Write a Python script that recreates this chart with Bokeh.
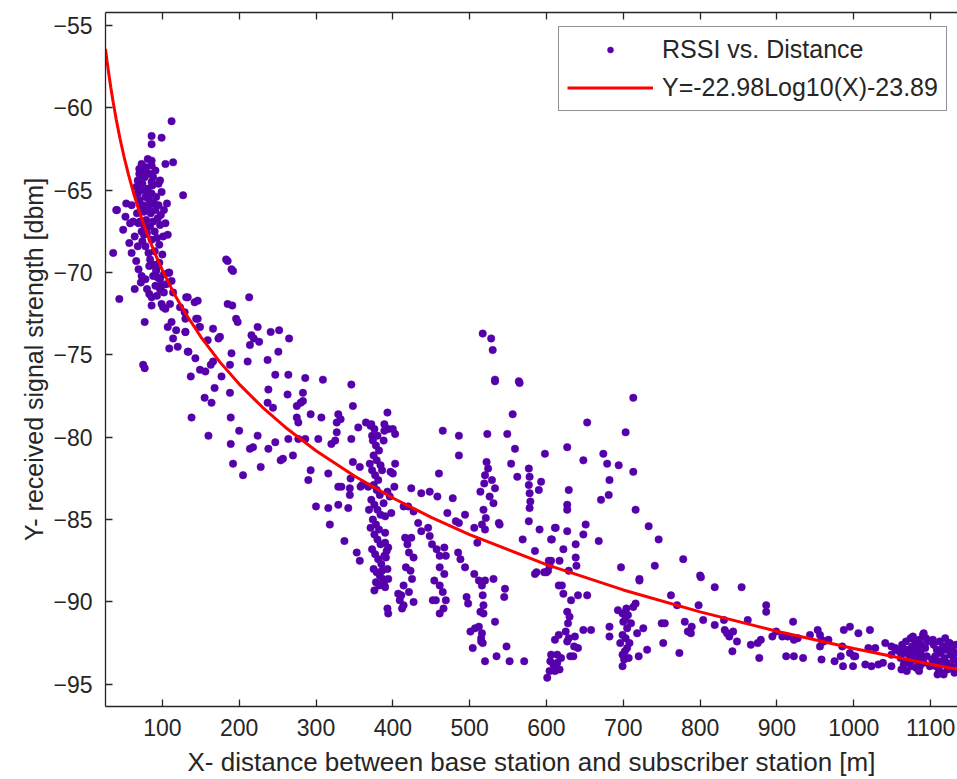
from bokeh.plotting import figure
from bokeh.models import Range1d, LinearAxis, FixedTicker, Legend, LegendItem, ColumnDataSource
from bokeh.embed import file_html
from bokeh.resources import INLINE

# ---------------- data (distance [m], RSSI [dBm]) ----------------
near_pts = [
    [112, -60.8], [86, -61.7], [99, -61.8], [86, -62.2], [81, -63.1], [86, -63.2], [104, -63.4], [114, -63.3],
    [73, -63.4], [70, -64.0], [68, -64.4], [86, -64.5], [127, -65.3], [106, -65.8], [40, -66.2], [53, -65.8],
    [41, -66.2], [52, -66.6], [49, -67.4], [57, -68.2], [36, -68.8], [60, -68.8], [66, -69.3], [83, -69.6],
    [92, -69.8], [109, -70.0], [73, -70.2], [97, -70.4], [64, -71.0], [44, -71.6], [83, -71.3], [86, -71.5],
    [114, -71.2], [131, -71.5], [101, -72.1], [104, -72.2], [123, -72.1], [77, -73.0], [112, -73.0], [107, -73.3],
    [118, -73.5], [130, -73.6], [144, -72.8], [148, -73.3], [114, -74.0], [109, -74.6], [120, -74.5], [133, -74.8],
    [75, -75.6], [77, -75.8], [107, -67.7], [108, -70.0],
    [66, -64.8], [68, -65.2], [70, -65.6], [72, -65.0], [74, -64.6], [75, -65.9], [76, -66.3], [77, -64.2],
    [78, -65.4], [79, -66.8], [80, -65.1], [81, -64.9], [82, -66.0], [83, -65.6], [84, -67.2], [85, -66.4],
    [86, -65.2], [87, -64.7], [88, -66.9], [89, -65.8], [90, -67.5], [91, -66.2], [92, -65.4], [93, -67.9],
    [94, -66.7], [95, -65.9], [96, -68.3], [97, -67.1], [98, -66.5], [100, -68.9], [67, -66.4], [69, -67.0],
    [71, -66.9], [73, -67.5], [74, -68.1], [76, -67.7], [78, -68.4], [80, -67.6], [82, -68.8], [84, -69.2],
    [86, -68.0], [88, -69.5], [90, -68.7], [92, -69.9], [94, -70.3], [96, -69.4], [99, -70.8], [102, -70.1],
    [70, -63.7], [72, -64.1], [75, -63.9], [79, -63.6], [83, -64.0], [88, -64.2], [91, -63.8], [95, -64.6],
    [99, -65.1], [102, -66.2], [104, -67.0], [101, -67.8], [97, -64.4], [86, -63.5], [80, -66.1], [77, -67.2],
    [73, -66.0], [68, -68.4], [64, -67.8], [62, -66.9], [60, -65.9], [58, -67.0], [88, -70.2], [91, -70.8],
    [93, -71.4], [97, -71.0], [99, -71.9], [86, -72.0], [102, -71.2], [105, -70.7], [110, -71.9], [112, -70.5],
    [69, -69.8], [72, -70.6], [78, -70.4], [80, -71.0],
]

mid_pts = [
    [185, -69.3], [192, -69.9], [183, -69.2], [190, -69.8], [133, -71.5], [142, -71.8], [146, -71.7], [213, -71.5],
    [185, -71.9], [191, -72.0], [129, -72.4], [130, -72.8], [146, -72.8], [149, -73.3], [196, -72.8], [198, -73.0],
    [166, -73.4], [224, -73.3], [241, -73.6], [252, -73.5], [130, -73.6], [159, -74.1], [173, -74.0], [175, -73.9],
    [216, -73.8], [219, -74.0], [214, -74.4], [226, -74.2], [265, -74.0], [134, -74.8], [143, -75.2], [251, -74.8],
    [190, -74.9], [166, -75.4], [163, -75.6], [188, -75.6], [211, -75.4], [237, -75.3], [149, -75.9], [156, -76.0],
    [137, -76.3], [177, -76.3], [247, -76.2], [264, -76.2], [286, -76.4], [309, -76.5], [346, -76.8], [168, -77.0],
    [188, -77.3], [238, -77.1], [263, -77.4], [283, -77.3], [283, -77.8], [155, -77.6], [164, -77.9], [237, -77.9],
    [244, -78.2], [275, -78.1], [280, -77.9], [348, -78.1], [138, -78.8], [189, -78.8], [275, -78.8], [277, -79.1],
    [293, -78.6], [307, -78.8], [329, -78.6], [332, -78.9], [327, -79.1], [200, -79.6], [160, -79.9], [224, -79.9],
    [189, -80.4], [214, -80.7], [218, -80.6], [238, -80.7], [247, -80.3], [264, -80.1], [277, -80.1], [286, -80.1],
    [303, -80.1], [320, -80.4], [325, -80.2], [327, -79.7], [346, -80.1], [355, -79.4], [270, -81.1], [254, -81.4],
    [257, -81.3], [192, -81.6], [228, -81.8], [205, -82.3], [293, -82.0], [290, -82.6], [316, -82.2], [348, -81.5],
    [357, -81.8], [345, -82.5], [360, -82.9], [329, -83.0], [344, -83.1], [358, -83.0], [333, -83.0], [344, -83.5],
    [300, -84.2], [316, -84.3], [329, -84.1], [342, -84.3], [318, -85.3], [337, -86.3], [353, -87.0], [357, -87.5],
    [365, -79.1], [371, -79.3], [373, -79.9], [394, -79.5], [389, -79.2], [389, -79.6], [400, -79.5], [403, -79.8],
    [393, -78.5], [397, -82.1], [402, -83.0], [403, -81.6], [400, -82.2],
]

column_pts = [
    [372, -79.2], [376, -79.5], [380, -79.9], [374, -80.2], [378, -80.5], [382, -80.8], [375, -81.1], [379, -81.4],
    [384, -81.7], [373, -82.0], [377, -82.3], [381, -82.6], [375, -82.9], [379, -83.2], [383, -83.5], [372, -83.8],
    [376, -84.1], [380, -84.4], [384, -84.7], [374, -85.0], [378, -85.3], [382, -85.6], [376, -85.9], [380, -86.2],
    [384, -86.5], [373, -86.8], [377, -87.1], [381, -87.4], [385, -87.7], [375, -88.0], [379, -88.2], [383, -88.4],
    [387, -88.6], [378, -88.8], [382, -89.0], [376, -89.3], [386, -88.1], [389, -87.2], [371, -85.5], [369, -84.4],
    [368, -83.0], [370, -81.6], [388, -80.2], [386, -82.0], [388, -84.0], [390, -85.8], [392, -86.9], [389, -89.0],
]

center_pts = [
    [465, -79.6], [486, -79.9], [486, -81.1], [523, -79.8], [549, -79.8], [556, -78.6], [533, -76.6], [565, -76.7],
    [559, -80.7], [598, -81.0], [460, -82.2], [522, -81.5], [524, -81.9], [520, -82.3], [519, -82.8], [514, -83.3],
    [526, -83.6], [531, -84.0], [518, -84.4], [521, -84.9], [516, -85.3], [529, -82.6], [533, -83.1], [554, -81.6],
    [562, -82.4], [577, -81.9], [578, -82.4], [577, -82.9], [578, -83.4], [579, -83.9], [590, -83.2], [578, -84.3],
    [577, -85.1], [393, -83.3], [396, -83.6], [398, -84.6], [390, -84.8], [424, -83.1], [437, -83.4], [448, -83.3],
    [458, -83.6], [414, -84.2], [420, -84.2], [427, -84.5], [478, -83.7], [471, -84.6], [482, -85.1], [486, -85.2],
    [494, -84.7], [433, -85.2], [446, -85.5], [437, -85.7], [506, -85.5], [520, -85.6], [538, -85.2], [510, -86.4],
    [569, -86.2], [591, -85.6], [607, -86.2], [611, -85.5], [585, -86.9], [606, -87.5], [602, -88.1], [587, -88.2],
    [616, -89.0], [390, -86.4], [394, -86.7], [391, -87.3], [393, -88.0], [394, -88.6], [390, -89.1], [416, -86.1],
    [419, -86.5], [424, -86.1], [421, -87.0], [427, -87.3], [417, -87.9], [423, -88.1], [425, -88.6], [414, -89.0],
    [421, -89.4], [427, -90.0], [412, -90.4], [414, -90.2], [448, -86.0], [451, -86.5], [457, -86.8], [461, -87.2],
    [467, -86.7], [469, -87.2], [461, -87.9], [467, -88.3], [454, -88.7], [461, -89.0], [465, -89.4], [469, -89.9],
    [456, -89.9], [466, -90.4], [452, -89.9], [485, -87.0], [488, -87.4], [494, -87.9], [506, -88.3], [512, -88.7],
    [520, -88.7], [531, -88.6], [516, -89.0], [517, -89.6], [518, -90.2], [518, -90.7], [514, -90.6], [546, -89.2],
    [545, -89.7], [496, -89.7], [498, -90.1], [393, -90.4], [394, -90.7], [461, -90.7], [407, -89.5], [409, -89.9],
    [411, -89.6], [520, -93.6], [535, -93.3], [552, -93.6], [571, -93.6], [504, -92.8], [515, -92.4], [515, -92.2],
    [501, -91.8], [507, -91.6], [512, -91.5], [548, -92.7], [533, -91.2], [516, -91.9], [517, -92.5],
]

far_pts = [
    [517, -73.7], [528, -74.0], [530, -74.7], [533, -76.5], [564, -76.6], [713, -77.6], [653, -79.1], [703, -79.7],
    [627, -80.6], [674, -81.0], [648, -81.4], [679, -81.6], [694, -81.7], [713, -82.1], [593, -82.7], [629, -83.2],
    [682, -82.6], [681, -83.5], [671, -83.8], [716, -84.4], [627, -84.1], [627, -84.4], [539, -85.3], [612, -85.5],
    [627, -85.7], [651, -85.3], [648, -85.9], [733, -85.4], [746, -86.2], [668, -86.3], [606, -86.2], [638, -86.5],
    [622, -86.8], [638, -87.3], [639, -87.8], [603, -87.5], [604, -87.8], [600, -88.2], [617, -87.5], [629, -88.1],
    [585, -88.3], [597, -88.2], [697, -87.9], [741, -87.8], [778, -87.4], [721, -88.6], [762, -89.6], [770, -90.2],
    [620, -89.0], [622, -89.5], [641, -89.6], [653, -89.6], [632, -89.9], [627, -90.6], [630, -90.9], [628, -91.3],
    [625, -91.8], [629, -92.2], [627, -92.4], [631, -93.3], [637, -92.1], [641, -92.8], [648, -91.7], [611, -92.3],
    [636, -92.7], [635, -93.3], [605, -93.6], [609, -93.8], [614, -93.7], [611, -94.2], [604, -94.2], [601, -94.6],
    [617, -94.1], [606, -93.2], [614, -93.2], [619, -93.4], [616, -92.0], [693, -90.5], [699, -90.7], [704, -90.4],
    [706, -90.8], [700, -91.2], [705, -91.6], [699, -92.0], [703, -92.2], [708, -92.5], [705, -92.8], [699, -93.2],
    [701, -93.5], [699, -93.9], [716, -90.1], [713, -90.3], [726, -91.6], [718, -91.9], [703, -91.0], [710, -91.3],
    [696, -92.5], [702, -93.0], [707, -93.4], [682, -91.5], [682, -92.1], [658, -91.7], [731, -92.9], [720, -93.3],
    [750, -91.3], [754, -91.3], [752, -92.5], [773, -93.1], [721, -88.7],
]

tail_pts = [
    [780, -91.2], [789, -91.5], [784, -91.8], [788, -91.9], [801, -88.5], [800, -88.4], [819, -89.1], [854, -89.1],
    [798, -90.2], [886, -90.2], [886, -90.6], [804, -91.1], [819, -91.4], [832, -91.7], [835, -91.9], [838, -92.1],
    [843, -91.8], [842, -93.0], [848, -92.4], [831, -91.1], [862, -91.1], [866, -92.6], [875, -92.5], [879, -92.3],
    [877, -93.4], [894, -92.1], [899, -91.8], [907, -92.1], [914, -92.1], [922, -92.3], [927, -92.2], [921, -91.2],
    [912, -93.3], [922, -93.3], [934, -93.4], [943, -92.0], [953, -91.7], [956, -92.0], [958, -92.3], [961, -92.4],
    [967, -92.3], [956, -92.7], [958, -93.5], [975, -93.6], [983, -93.3], [986, -93.9], [999, -93.9], [1002, -93.3],
    [987, -91.7], [995, -91.5], [1006, -91.9], [1021, -91.7], [985, -92.7], [995, -93.1], [1000, -93.3], [1019, -92.8],
    [1028, -92.8], [1015, -93.8], [1023, -93.9], [1032, -93.8], [1038, -93.7], [1049, -93.9], [1041, -92.5], [1049, -92.7],
    [1054, -92.8], [1049, -93.2], [1055, -92.9],
    [1059, -93.0], [1061, -93.4], [1063, -92.6], [1065, -93.8], [1067, -93.1], [1068, -92.4], [1070, -93.6], [1071, -92.9],
    [1073, -93.3], [1074, -92.2], [1075, -93.9], [1076, -92.7], [1078, -93.5], [1079, -93.0], [1080, -92.5], [1081, -94.0],
    [1082, -93.2], [1083, -92.8], [1084, -93.6], [1085, -92.3], [1086, -93.9], [1087, -93.1], [1088, -92.6], [1089, -93.4],
    [1090, -92.0], [1091, -93.7], [1066, -92.9], [1072, -93.7], [1077, -92.1], [1085, -94.2], [1062, -94.1], [1069, -94.2],
    [1093, -92.8], [1095, -93.3], [1097, -92.4], [1091, -91.9], [1094, -92.2], [1103, -92.3],
    [1104, -92.6], [1106, -93.3], [1107, -93.9], [1108, -92.9], [1110, -93.6], [1111, -94.2], [1112, -92.4], [1113, -93.1],
    [1115, -93.8], [1116, -92.7], [1117, -94.4], [1118, -93.4], [1120, -92.9], [1121, -93.7], [1122, -94.1], [1123, -92.5],
    [1125, -92.5], [1126, -93.2], [1127, -93.9], [1128, -92.8], [1130, -93.5], [1131, -94.3], [1133, -92.6], [1134, -93.1],
    [1136, -93.8], [1109, -94.4], [1114, -94.3], [1119, -92.2], [1102, -93.5], [1099, -93.9],
]

# fitted model shown in the legend: Y = a*log10(X) + b
fit_a = -22.98
fit_b = -23.89
fit_x = [26, 28, 30, 33, 36, 40, 45, 50, 56, 63, 70, 80, 90, 100, 115, 130, 150, 175, 200, 230, 260,
         300, 350, 400, 450, 500, 600, 700, 800, 900, 1000, 1100, 1140]

x_ticks = [100, 200, 300, 400, 500, 600, 700, 800, 900, 1000, 1100]
y_ticks = [-95, -90, -85, -80, -75, -70, -65, -60, -55]

scatter_label = "RSSI vs. Distance"
fit_label = "Y=-22.98Log10(X)-23.89"
x_title = "X- distance between base station and subscriber station [m]"
y_title = "Y- received signal strength [dbm]"

# ---------------- build ----------------
import math

all_pts = near_pts + mid_pts + column_pts + center_pts + far_pts + tail_pts
dist = [pt[0] for pt in all_pts]
rssi = [pt[1] for pt in all_pts]
fit_y = [fit_a * math.log10(xv) + fit_b for xv in fit_x]

FONT = "Liberation Sans"
TXT = "#262626"
AX = "#262626"

p = figure(width=957, height=779, output_backend="svg", toolbar_location=None,
           x_range=Range1d(26, 1135), y_range=Range1d(-96.35, -54.2),
           min_border_left=105, min_border_right=0, min_border_top=12, min_border_bottom=71,
           background_fill_color="white", border_fill_color="white", outline_line_color=None)
p.xgrid.visible = False
p.ygrid.visible = False

src = ColumnDataSource(dict(x=dist, y=rssi))
sc = p.scatter("x", "y", source=src, size=7.5, marker="circle",
               fill_color="#5500AA", line_color="#5500AA", line_width=0.5)
ln = p.line(fit_x, fit_y, line_color="#FF0000", line_width=3)

def style_axis(ax, ticks):
    ax.ticker = FixedTicker(ticks=ticks)
    ax.major_tick_in = 7
    ax.major_tick_out = 0
    ax.minor_tick_line_color = None
    ax.axis_line_color = AX
    ax.axis_line_width = 1.3
    ax.major_tick_line_color = AX
    ax.major_tick_line_width = 1.3
    ax.major_label_text_font = FONT
    ax.major_label_text_font_size = "23px"
    ax.major_label_text_color = TXT
    ax.axis_label_text_font = FONT
    ax.axis_label_text_font_size = "25px"
    ax.axis_label_text_font_style = "normal"
    ax.axis_label_text_color = TXT

xa = p.xaxis[0]
style_axis(xa, x_ticks)
xa.axis_label = x_title
xa.axis_label_text_font_size = "26px"
xa.major_label_standoff = 12
xa.axis_label_standoff = 8

ya = p.yaxis[0]
style_axis(ya, y_ticks)
ya.axis_label = y_title
ya.major_label_standoff = 13
ya.axis_label_standoff = 2

top = LinearAxis()
style_axis(top, x_ticks)
top.major_label_text_font_size = "1px"
top.major_label_text_alpha = 0
top.major_label_standoff = 0
p.add_layout(top, "above")

legend = Legend(items=[LegendItem(label=scatter_label, renderers=[sc]),
                       LegendItem(label=fit_label, renderers=[ln])],
                location=(453, 595))
legend.label_text_font = FONT
legend.label_text_font_size = "25px"
legend.label_text_color = TXT
legend.glyph_width = 86
legend.glyph_height = 15
legend.label_height = 20
legend.label_standoff = 9
legend.padding = 8
legend.spacing = 9
legend.margin = 0
legend.border_line_color = AX
legend.border_line_width = 1.3
legend.background_fill_color = "white"
legend.background_fill_alpha = 1
p.add_layout(legend)

open("out.html", "w").write(file_html(p, INLINE))
